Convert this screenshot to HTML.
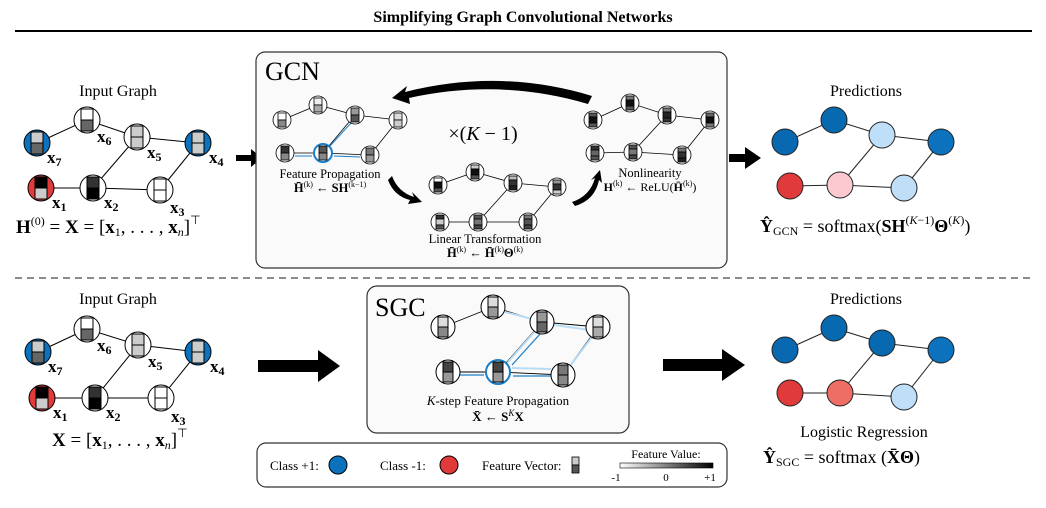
<!DOCTYPE html>
<html><head><meta charset="utf-8"><style>
body{margin:0;background:#fff}
svg{display:block}
text{font-family:"Liberation Serif",serif;fill:#000}
.b{font-weight:bold}
</style></head><body>
<svg width="1046" height="508" viewBox="0 0 1046 508" xmlns="http://www.w3.org/2000/svg">
<defs>
<linearGradient id="gr" x1="0" x2="1"><stop offset="0" stop-color="#fff"/><stop offset="1" stop-color="#000"/></linearGradient>
</defs>
<text x="523" y="22" font-size="16" class="b" text-anchor="middle">Simplifying Graph Convolutional Networks</text>
<line x1="15" y1="31" x2="1032" y2="31" stroke="#000" stroke-width="2"/>
<line x1="15" y1="278" x2="1032" y2="278" stroke="#666" stroke-width="1.5" stroke-dasharray="7,5"/>

<!-- TOP INPUT GRAPH -->
<text x="118" y="96" font-size="16" text-anchor="middle">Input Graph</text>
<g stroke="#000" stroke-width="1">
<line x1="37" y1="143" x2="87" y2="120"/><line x1="87" y1="120" x2="137" y2="137"/><line x1="137" y1="137" x2="198" y2="143"/>
<line x1="137" y1="137" x2="93" y2="188"/><line x1="41" y1="188" x2="93" y2="188"/><line x1="93" y1="188" x2="160" y2="190"/><line x1="160" y1="190" x2="198" y2="143"/>
</g>
<g stroke="#000" stroke-width="1">
<g transform="translate(37,143)"><circle r="13" fill="#0c72bd"/><rect x="-6" y="-11" width="12" height="11" fill="#ccc"/><rect x="-6" y="0" width="12" height="11" fill="#666"/></g>
<g transform="translate(87,120)"><circle r="13" fill="#fff"/><rect x="-6" y="-11" width="12" height="11" fill="#fff"/><rect x="-6" y="0" width="12" height="11" fill="#666"/></g>
<g transform="translate(137,137)"><circle r="13" fill="#fff"/><rect x="-6" y="-11" width="12" height="11" fill="#ccc"/><rect x="-6" y="0" width="12" height="11" fill="#ccc"/></g>
<g transform="translate(198,143)"><circle r="13" fill="#0c72bd"/><rect x="-6" y="-11" width="12" height="11" fill="#ccc"/><rect x="-6" y="0" width="12" height="11" fill="#ccc"/></g>
<g transform="translate(41,188)"><circle r="13" fill="#e03a3a"/><rect x="-6" y="-11" width="12" height="11" fill="#000"/><rect x="-6" y="0" width="12" height="11" fill="#ccc"/></g>
<g transform="translate(93,188)"><circle r="13" fill="#fff"/><rect x="-6" y="-11" width="12" height="11" fill="#333"/><rect x="-6" y="0" width="12" height="11" fill="#000"/></g>
<g transform="translate(160,190)"><circle r="13" fill="#fff"/><rect x="-6" y="-11" width="12" height="11" fill="#fff"/><rect x="-6" y="0" width="12" height="11" fill="#fff"/></g>
</g>
<g font-size="17" class="b">
<text x="47" y="163">x<tspan font-size="12" dy="3">7</tspan></text>
<text x="97" y="142">x<tspan font-size="12" dy="3">6</tspan></text>
<text x="147" y="158">x<tspan font-size="12" dy="3">5</tspan></text>
<text x="209" y="163">x<tspan font-size="12" dy="3">4</tspan></text>
<text x="52" y="208">x<tspan font-size="12" dy="3">1</tspan></text>
<text x="104" y="208">x<tspan font-size="12" dy="3">2</tspan></text>
<text x="170" y="213">x<tspan font-size="12" dy="3">3</tspan></text>
</g>
<text x="16" y="233" font-size="19"><tspan class="b">H</tspan><tspan font-size="12" dy="-8">(0)</tspan><tspan dy="8"> = </tspan><tspan class="b">X</tspan> = [<tspan class="b">x</tspan><tspan font-size="12" dy="3">1</tspan><tspan dy="-3">, . . . , </tspan><tspan class="b">x</tspan><tspan font-size="12" dy="3" font-style="italic">n</tspan><tspan dy="-3">]</tspan><tspan font-size="12" dy="-9">⊤</tspan></text>

<!-- top arrow left -->
<path d="M236 155 H251 V149 L262 158 L251 167 V161 H236Z" fill="#000"/>

<!-- GCN BOX -->
<rect x="256" y="52" width="471" height="216" rx="9" fill="#fafafa" stroke="#333" stroke-width="1.2"/>
<text x="265" y="80" font-size="26">GCN</text>
<path d="M592 96 Q500 68 405 92 L407 86 L392 98 L410 104 L409 98 Q500 78 588 104Z" fill="#000"/>
<path d="M392 176 Q398 192 414 197 L412 192 L422 202 L408 204 L410 200 Q394 196 388 180Z" fill="#000"/>
<path d="M572 202 Q590 196 595 178 L591 180 L600 170 L602 183 L599 180 Q595 200 575 206Z" fill="#000"/>
<text x="483" y="140" font-size="20" text-anchor="middle">×(<tspan font-style="italic">K</tspan> − 1)</text>

<!-- Feature propagation graph -->
<g stroke="#000" stroke-width="0.8">
<line x1="282" y1="120" x2="318" y2="105"/><line x1="318" y1="105" x2="355" y2="115"/><line x1="355" y1="115" x2="398" y2="120"/>
<line x1="355" y1="115" x2="323" y2="153"/><line x1="285" y1="153" x2="323" y2="153"/><line x1="323" y1="153" x2="370" y2="155"/><line x1="370" y1="155" x2="398" y2="120"/>
</g>
<g stroke="#1a7fc8" stroke-width="1"><line x1="351" y1="123" x2="330" y2="146"/><line x1="295" y1="156" x2="312" y2="156"/><line x1="360" y1="157" x2="334" y2="156"/></g>
<g stroke="#000" stroke-width="0.8">
<g transform="translate(282,120)"><circle r="9" fill="#fff"/><rect x="-4" y="-7" width="8" height="7" fill="#fff"/><rect x="-4" y="0" width="8" height="7" fill="#888"/></g>
<g transform="translate(318,105)"><circle r="9" fill="#fff"/><rect x="-4" y="-7" width="8" height="7" fill="#eee"/><rect x="-4" y="0" width="8" height="7" fill="#aaa"/></g>
<g transform="translate(355,115)"><circle r="9" fill="#fff"/><rect x="-4" y="-7" width="8" height="7" fill="#999"/><rect x="-4" y="0" width="8" height="7" fill="#555"/></g>
<g transform="translate(398,120)"><circle r="9" fill="#fff"/><rect x="-4" y="-7" width="8" height="7" fill="#ddd"/><rect x="-4" y="0" width="8" height="7" fill="#ccc"/></g>
<g transform="translate(285,153)"><circle r="9" fill="#fff"/><rect x="-4" y="-7" width="8" height="7" fill="#333"/><rect x="-4" y="0" width="8" height="7" fill="#888"/></g>
<g transform="translate(323,153)"><circle r="9" fill="#fff" stroke="#1a7fc8" stroke-width="2"/><rect x="-4" y="-7" width="8" height="7" fill="#555"/><rect x="-4" y="0" width="8" height="7" fill="#888"/></g>
<g transform="translate(370,155)"><circle r="9" fill="#fff"/><rect x="-4" y="-7" width="8" height="7" fill="#777"/><rect x="-4" y="0" width="8" height="7" fill="#999"/></g>
</g>
<text x="330" y="178" font-size="12.5" text-anchor="middle">Feature Propagation</text>
<text x="330" y="192" font-size="12.5" text-anchor="middle"><tspan class="b">H̄</tspan><tspan font-size="8" dy="-5">(k)</tspan><tspan dy="5"> ← </tspan><tspan class="b">SH</tspan><tspan font-size="8" dy="-5">(k−1)</tspan></text>

<!-- Linear transformation graph -->
<g stroke="#000" stroke-width="0.8">
<line x1="438" y1="185" x2="475" y2="172"/><line x1="475" y1="172" x2="513" y2="183"/><line x1="513" y1="183" x2="557" y2="187"/>
<line x1="513" y1="183" x2="478" y2="222"/><line x1="440" y1="222" x2="478" y2="222"/><line x1="478" y1="222" x2="528" y2="222"/><line x1="528" y1="222" x2="557" y2="187"/>
</g>
<g stroke="#000" stroke-width="0.8">
<g transform="translate(438,185)"><circle r="9" fill="#fff"/><rect x="-4" y="-7" width="8" height="4" fill="#fff"/><rect x="-4" y="-3" width="8" height="6" fill="#111"/><rect x="-4" y="3" width="8" height="4" fill="#555"/></g>
<g transform="translate(475,172)"><circle r="9" fill="#fff"/><rect x="-4" y="-7" width="8" height="4" fill="#ccc"/><rect x="-4" y="-3" width="8" height="6" fill="#111"/><rect x="-4" y="3" width="8" height="4" fill="#555"/></g>
<g transform="translate(513,183)"><circle r="9" fill="#fff"/><rect x="-4" y="-7" width="8" height="4" fill="#bbb"/><rect x="-4" y="-3" width="8" height="6" fill="#333"/><rect x="-4" y="3" width="8" height="4" fill="#222"/></g>
<g transform="translate(557,187)"><circle r="9" fill="#fff"/><rect x="-4" y="-7" width="8" height="4" fill="#999"/><rect x="-4" y="-3" width="8" height="6" fill="#333"/><rect x="-4" y="3" width="8" height="4" fill="#ccc"/></g>
<g transform="translate(440,222)"><circle r="9" fill="#fff"/><rect x="-4" y="-7" width="8" height="4" fill="#333"/><rect x="-4" y="-3" width="8" height="6" fill="#ccc"/><rect x="-4" y="3" width="8" height="4" fill="#555"/></g>
<g transform="translate(478,222)"><circle r="9" fill="#fff"/><rect x="-4" y="-7" width="8" height="4" fill="#555"/><rect x="-4" y="-3" width="8" height="6" fill="#777"/><rect x="-4" y="3" width="8" height="4" fill="#444"/></g>
<g transform="translate(528,222)"><circle r="9" fill="#fff"/><rect x="-4" y="-7" width="8" height="4" fill="#777"/><rect x="-4" y="-3" width="8" height="6" fill="#555"/><rect x="-4" y="3" width="8" height="4" fill="#444"/></g>
</g>
<text x="485" y="243" font-size="12.5" text-anchor="middle">Linear Transformation</text>
<text x="485" y="257" font-size="12.5" text-anchor="middle"><tspan class="b">H̄</tspan><tspan font-size="8" dy="-5">(k)</tspan><tspan dy="5"> ← </tspan><tspan class="b">H̄</tspan><tspan font-size="8" dy="-5">(k)</tspan><tspan dy="5" class="b">Θ</tspan><tspan font-size="8" dy="-5">(k)</tspan></text>

<!-- Nonlinearity graph -->
<g stroke="#000" stroke-width="0.8">
<line x1="593" y1="120" x2="630" y2="103"/><line x1="630" y1="103" x2="667" y2="115"/><line x1="667" y1="115" x2="710" y2="120"/>
<line x1="667" y1="115" x2="633" y2="152"/><line x1="595" y1="153" x2="633" y2="152"/><line x1="633" y1="152" x2="682" y2="155"/><line x1="682" y1="155" x2="710" y2="120"/>
</g>
<g stroke="#000" stroke-width="0.8">
<g transform="translate(593,120)"><circle r="9" fill="#fff"/><rect x="-4" y="-7" width="8" height="4" fill="#555"/><rect x="-4" y="-3" width="8" height="6" fill="#111"/><rect x="-4" y="3" width="8" height="4" fill="#555"/></g>
<g transform="translate(630,103)"><circle r="9" fill="#fff"/><rect x="-4" y="-7" width="8" height="4" fill="#777"/><rect x="-4" y="-3" width="8" height="6" fill="#111"/><rect x="-4" y="3" width="8" height="4" fill="#555"/></g>
<g transform="translate(667,115)"><circle r="9" fill="#fff"/><rect x="-4" y="-7" width="8" height="4" fill="#777"/><rect x="-4" y="-3" width="8" height="6" fill="#222"/><rect x="-4" y="3" width="8" height="4" fill="#333"/></g>
<g transform="translate(710,120)"><circle r="9" fill="#fff"/><rect x="-4" y="-7" width="8" height="4" fill="#666"/><rect x="-4" y="-3" width="8" height="6" fill="#111"/><rect x="-4" y="3" width="8" height="4" fill="#777"/></g>
<g transform="translate(595,153)"><circle r="9" fill="#fff"/><rect x="-4" y="-7" width="8" height="4" fill="#333"/><rect x="-4" y="-3" width="8" height="6" fill="#666"/><rect x="-4" y="3" width="8" height="4" fill="#555"/></g>
<g transform="translate(633,152)"><circle r="9" fill="#fff"/><rect x="-4" y="-7" width="8" height="4" fill="#555"/><rect x="-4" y="-3" width="8" height="6" fill="#777"/><rect x="-4" y="3" width="8" height="4" fill="#444"/></g>
<g transform="translate(682,155)"><circle r="9" fill="#fff"/><rect x="-4" y="-7" width="8" height="4" fill="#777"/><rect x="-4" y="-3" width="8" height="6" fill="#333"/><rect x="-4" y="3" width="8" height="4" fill="#222"/></g>
</g>
<text x="650" y="177" font-size="12.5" text-anchor="middle">Nonlinearity</text>
<text x="650" y="191" font-size="12" text-anchor="middle"><tspan class="b">H</tspan><tspan font-size="8" dy="-5">(k)</tspan><tspan dy="5"> ← ReLU(</tspan><tspan class="b">H̄</tspan><tspan font-size="8" dy="-5">(k)</tspan><tspan dy="5">)</tspan></text>

<!-- top arrow right -->
<path d="M729 154 H745 V147 L761 158 L745 169 V162 H729Z" fill="#000"/>

<!-- TOP PREDICTIONS -->
<text x="866" y="96" font-size="16" text-anchor="middle">Predictions</text>
<g stroke="#222" stroke-width="1">
<line x1="785" y1="142" x2="834" y2="120"/><line x1="834" y1="120" x2="882" y2="135"/><line x1="882" y1="135" x2="941" y2="142"/>
<line x1="882" y1="135" x2="840" y2="185"/><line x1="790" y1="186" x2="840" y2="185"/><line x1="840" y1="185" x2="904" y2="188"/><line x1="904" y1="188" x2="941" y2="142"/>
<circle cx="785" cy="142" r="13" fill="#0868b0"/><circle cx="834" cy="120" r="13" fill="#0868b0"/><circle cx="882" cy="135" r="13" fill="#bfdff8"/><circle cx="941" cy="142" r="13" fill="#0c72bd"/>
<circle cx="790" cy="186" r="13" fill="#e03a3a"/><circle cx="840" cy="185" r="13" fill="#fcc9d0"/><circle cx="904" cy="188" r="13" fill="#bfdff8"/>
</g>
<text x="760" y="232" font-size="18"><tspan class="b">Ŷ</tspan><tspan font-size="12" dy="3">GCN</tspan><tspan dy="-3"> = softmax(</tspan><tspan class="b">SH</tspan><tspan font-size="12" dy="-8">(<tspan font-style="italic">K</tspan>−1)</tspan><tspan dy="8" class="b">Θ</tspan><tspan font-size="12" dy="-8">(<tspan font-style="italic">K</tspan>)</tspan><tspan dy="8">)</tspan></text>

<!-- BOTTOM INPUT GRAPH -->
<text x="118" y="304" font-size="16" text-anchor="middle">Input Graph</text>
<g stroke="#000" stroke-width="1">
<line x1="38" y1="352" x2="87" y2="329"/><line x1="87" y1="329" x2="138" y2="345"/><line x1="138" y1="345" x2="198" y2="352"/>
<line x1="138" y1="345" x2="95" y2="398"/><line x1="42" y1="398" x2="95" y2="398"/><line x1="95" y1="398" x2="161" y2="398"/><line x1="161" y1="398" x2="198" y2="352"/>
</g>
<g stroke="#000" stroke-width="1">
<g transform="translate(38,352)"><circle r="13" fill="#0c72bd"/><rect x="-6" y="-11" width="12" height="11" fill="#ccc"/><rect x="-6" y="0" width="12" height="11" fill="#666"/></g>
<g transform="translate(87,329)"><circle r="13" fill="#fff"/><rect x="-6" y="-11" width="12" height="11" fill="#fff"/><rect x="-6" y="0" width="12" height="11" fill="#666"/></g>
<g transform="translate(138,345)"><circle r="13" fill="#fff"/><rect x="-6" y="-11" width="12" height="11" fill="#ccc"/><rect x="-6" y="0" width="12" height="11" fill="#ccc"/></g>
<g transform="translate(198,352)"><circle r="13" fill="#0c72bd"/><rect x="-6" y="-11" width="12" height="11" fill="#ccc"/><rect x="-6" y="0" width="12" height="11" fill="#ccc"/></g>
<g transform="translate(42,398)"><circle r="13" fill="#e03a3a"/><rect x="-6" y="-11" width="12" height="11" fill="#000"/><rect x="-6" y="0" width="12" height="11" fill="#ccc"/></g>
<g transform="translate(95,398)"><circle r="13" fill="#fff"/><rect x="-6" y="-11" width="12" height="11" fill="#333"/><rect x="-6" y="0" width="12" height="11" fill="#000"/></g>
<g transform="translate(161,398)"><circle r="13" fill="#fff"/><rect x="-6" y="-11" width="12" height="11" fill="#fff"/><rect x="-6" y="0" width="12" height="11" fill="#fff"/></g>
</g>
<g font-size="17" class="b">
<text x="48" y="372">x<tspan font-size="12" dy="3">7</tspan></text>
<text x="97" y="351">x<tspan font-size="12" dy="3">6</tspan></text>
<text x="148" y="367">x<tspan font-size="12" dy="3">5</tspan></text>
<text x="210" y="372">x<tspan font-size="12" dy="3">4</tspan></text>
<text x="53" y="418">x<tspan font-size="12" dy="3">1</tspan></text>
<text x="106" y="418">x<tspan font-size="12" dy="3">2</tspan></text>
<text x="171" y="422">x<tspan font-size="12" dy="3">3</tspan></text>
</g>
<text x="52" y="446" font-size="19"><tspan class="b">X</tspan> = [<tspan class="b">x</tspan><tspan font-size="12" dy="3">1</tspan><tspan dy="-3">, . . . , </tspan><tspan class="b">x</tspan><tspan font-size="12" dy="3" font-style="italic">n</tspan><tspan dy="-3">]</tspan><tspan font-size="12" dy="-9">⊤</tspan></text>

<!-- bottom arrows -->
<path d="M258 360 H318 V350 L340 366 L318 382 V372 H258Z" fill="#000"/>
<path d="M663 359 H722 V349 L745 365 L722 381 V371 H663Z" fill="#000"/>

<!-- SGC BOX -->
<rect x="367" y="286" width="262" height="147" rx="10" fill="#fafafa" stroke="#333" stroke-width="1.2"/>
<text x="375" y="316" font-size="26">SGC</text>
<g stroke="#000" stroke-width="0.9">
<line x1="443" y1="327" x2="493" y2="307"/><line x1="493" y1="307" x2="542" y2="322"/><line x1="542" y1="322" x2="598" y2="327"/>
<line x1="542" y1="322" x2="498" y2="372"/><line x1="448" y1="372" x2="498" y2="372"/><line x1="498" y1="372" x2="563" y2="375"/><line x1="563" y1="375" x2="598" y2="327"/>
</g>
<g stroke="#b8dcf5" stroke-width="2" fill="none">
<path d="M505 312 L536 320"/><path d="M554 325 L590 330"/><path d="M592 337 L570 366"/><path d="M536 330 L508 362"/><path d="M551 369 L512 368"/>
</g>
<g stroke="#1a7fc8" stroke-width="1.3" fill="none">
<path d="M540 334 L512 365"/><path d="M459 375 L484 375"/><path d="M551 376 L513 376"/>
</g>
<g stroke="#000" stroke-width="1">
<g transform="translate(443,327)"><circle r="12" fill="#fff"/><rect x="-5" y="-10" width="10" height="10" fill="#ddd"/><rect x="-5" y="0" width="10" height="10" fill="#888"/></g>
<g transform="translate(493,307)"><circle r="12" fill="#fff"/><rect x="-5" y="-10" width="10" height="10" fill="#ddd"/><rect x="-5" y="0" width="10" height="10" fill="#999"/></g>
<g transform="translate(542,322)"><circle r="12" fill="#fff"/><rect x="-5" y="-10" width="10" height="10" fill="#999"/><rect x="-5" y="0" width="10" height="10" fill="#666"/></g>
<g transform="translate(598,327)"><circle r="12" fill="#fff"/><rect x="-5" y="-10" width="10" height="10" fill="#ddd"/><rect x="-5" y="0" width="10" height="10" fill="#aaa"/></g>
<g transform="translate(448,372)"><circle r="12" fill="#fff"/><rect x="-5" y="-10" width="10" height="10" fill="#444"/><rect x="-5" y="0" width="10" height="10" fill="#999"/></g>
<g transform="translate(498,372)"><circle r="12" fill="#fff" stroke="#1a7fc8" stroke-width="2"/><rect x="-5" y="-10" width="10" height="10" fill="#444"/><rect x="-5" y="0" width="10" height="10" fill="#999"/></g>
<g transform="translate(563,375)"><circle r="12" fill="#fff"/><rect x="-5" y="-10" width="10" height="10" fill="#777"/><rect x="-5" y="0" width="10" height="10" fill="#888"/></g>
</g>
<text x="498" y="405" font-size="13" text-anchor="middle"><tspan font-style="italic">K</tspan>-step Feature Propagation</text>
<text x="498" y="421" font-size="13" text-anchor="middle"><tspan class="b">X̄</tspan> ← <tspan class="b">S</tspan><tspan font-size="9" dy="-5" font-style="italic">K</tspan><tspan dy="5" class="b">X</tspan></text>

<!-- LEGEND -->
<rect x="257" y="443" width="470" height="44" rx="9" fill="#fff" stroke="#333" stroke-width="1.2"/>
<text x="270" y="470" font-size="13">Class +1:</text>
<circle cx="338" cy="465" r="9" fill="#0c72bd" stroke="#000"/>
<text x="380" y="470" font-size="13">Class -1:</text>
<circle cx="449" cy="465" r="9" fill="#e03a3a" stroke="#000"/>
<text x="482" y="470" font-size="13">Feature Vector:</text>
<rect x="572" y="457" width="7" height="8" fill="#ccc" stroke="#000" stroke-width="0.8"/>
<rect x="572" y="465" width="7" height="8" fill="#555" stroke="#000" stroke-width="0.8"/>
<text x="666" y="458" font-size="12" text-anchor="middle">Feature Value:</text>
<rect x="620" y="463" width="93" height="5" fill="url(#gr)" stroke="#000" stroke-width="0.6"/>
<text x="616" y="481" font-size="11" text-anchor="middle">-1</text>
<text x="666" y="481" font-size="11" text-anchor="middle">0</text>
<text x="710" y="481" font-size="11" text-anchor="middle">+1</text>

<!-- BOTTOM PREDICTIONS -->
<text x="866" y="304" font-size="16" text-anchor="middle">Predictions</text>
<g stroke="#222" stroke-width="1">
<line x1="785" y1="350" x2="834" y2="328"/><line x1="834" y1="328" x2="882" y2="343"/><line x1="882" y1="343" x2="941" y2="350"/>
<line x1="882" y1="343" x2="840" y2="393"/><line x1="790" y1="393" x2="840" y2="393"/><line x1="840" y1="393" x2="904" y2="397"/><line x1="904" y1="397" x2="941" y2="350"/>
<circle cx="785" cy="350" r="13" fill="#0868b0"/><circle cx="834" cy="328" r="13" fill="#0868b0"/><circle cx="882" cy="343" r="13" fill="#0868b0"/><circle cx="941" cy="350" r="13" fill="#0c72bd"/>
<circle cx="790" cy="393" r="13" fill="#e03a3a"/><circle cx="840" cy="393" r="13" fill="#ee6e66"/><circle cx="904" cy="397" r="13" fill="#bfdff8"/>
</g>
<text x="864" y="437" font-size="16" text-anchor="middle">Logistic Regression</text>
<text x="763" y="463" font-size="18"><tspan class="b">Ŷ</tspan><tspan font-size="12" dy="3">SGC</tspan><tspan dy="-3"> = softmax (</tspan><tspan class="b">X̄Θ</tspan>)</text>
</svg>
</body></html>
